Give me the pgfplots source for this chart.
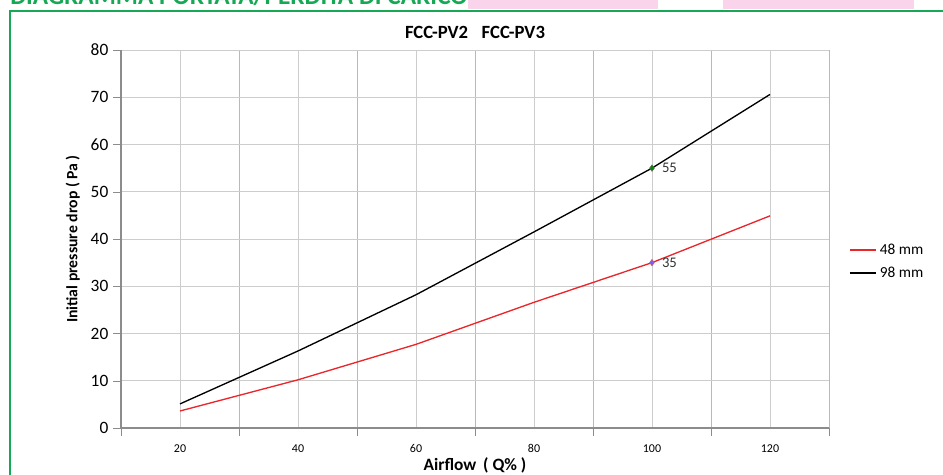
\documentclass[border=0pt]{standalone}
\usepackage{pgfplots}
\pgfplotsset{compat=1.18}
\usepackage{fontspec}
\setmainfont{Carlito}
\definecolor{framegreen}{RGB}{22,168,84}
\definecolor{pinkbox}{RGB}{250,212,234}
\definecolor{linered}{RGB}{233,38,42}
\definecolor{gridgray}{RGB}{205,205,205}
\definecolor{axisgray}{RGB}{140,140,140}
\pgfplotsset{
  short line legend/.style={
    legend image code/.code={\draw[mark repeat=2,mark phase=2,##1] plot coordinates {(0cm,0cm) (0.35cm,0cm) (0.7cm,0cm)};}
  }
}

\begin{document}
\begin{tikzpicture}[x=0.75pt,y=0.75pt]
  % page is 943 x 475 px, origin bottom left
  \path[use as bounding box] (0,0) rectangle (943,475);
  \begin{scope}
    \clip (0,0) rectangle (943,475);
    \fill[pinkbox] (468,466) rectangle (658,480);
    \node[anchor=base west, inner sep=0pt, text=framegreen] at (10,470)
      {\resizebox{343pt}{!}{\fontsize{18pt}{20pt}\selectfont\bfseries DIAGRAMMA PORTATA/PERDITA DI CARICO}};
    \fill[pinkbox] (723,466) rectangle (914,480);
    \draw[framegreen, line width=1.5pt] (10,-5) -- (10,463.5) -- (950,463.5);
  \end{scope}

  \begin{axis}[
      at={(90.75pt,35.25pt)}, anchor=south west,
      scale only axis,
      width=531pt, height=283.5pt,
      xmin=10, xmax=130, ymin=0, ymax=80,
      xtick={20,40,60,80,100,120},
      minor xtick={10,30,50,70,90,110,130},
      ytick={0,10,...,80},
      major x tick style={draw=none},
      minor x tick style={axisgray},
      minor tick length=6pt,
      major tick length=6pt,
      tick align=outside,
      y tick style={axisgray},
      grid=both,
      major grid style={gridgray, line width=0.6pt},
      minor grid style={gridgray!90!black, line width=0.6pt},
      axis line style={axisgray, line width=0.8pt},
      axis x line*=bottom, axis y line*=left,
      /pgf/number format/assume math mode=true,
      xticklabel style={font=\fontsize{9pt}{10pt}\selectfont, yshift=-3pt},
      yticklabel style={font=\fontsize{13pt}{15pt}\selectfont},
      title={FCC-PV2\enspace\ FCC-PV3},
      title style={font=\fontsize{14pt}{16pt}\selectfont\bfseries, at={(axis description cs:0.5,1.026)}, anchor=center},
      xlabel={Airflow\, ( Q\% )},
      ylabel={Initial pressure drop ( Pa )},
      xlabel style={font=\fontsize{13pt}{15pt}\selectfont\bfseries, at={(axis description cs:0.5,-0.1)}, anchor=center},
      ylabel style={font=\fontsize{11.8pt}{13pt}\selectfont\bfseries, at={(axis description cs:-0.068,0.5)}, anchor=center},
      legend style={at={(axis description cs:1.0226,0.5026)}, anchor=north west, draw=none, fill=none,
        font=\fontsize{11.5pt}{13pt}\selectfont, row sep=4pt},
      legend cell align=left,
      short line legend,
      clip=false,
    ]
    \addplot[linered, line width=1pt, no marks] coordinates
      {(20,3.6) (40,10.2) (60,17.7) (80,26.6) (100,35) (120,44.9)};
    \addlegendentry{48 mm}
    \addplot[black, line width=1pt, no marks] coordinates
      {(20,5.1) (40,16.3) (60,28.2) (80,41.5) (100,55) (120,70.6)};
    \addlegendentry{98 mm}
    \addplot[only marks, mark=diamond*, mark size=2.4pt, draw=gray!80!black, fill=green!55!black,
      nodes near coords, point meta=explicit symbolic,
      every node near coord/.style={anchor=west, xshift=4pt, font=\fontsize{11pt}{12pt}\selectfont, text=black!80}]
      coordinates {(100,55) [55]};
    \addplot[only marks, mark=diamond*, mark size=2.4pt, draw=linered!80, fill=blue!60,
      nodes near coords, point meta=explicit symbolic,
      every node near coord/.style={anchor=west, xshift=4pt, font=\fontsize{11pt}{12pt}\selectfont, text=black!80}]
      coordinates {(100,35) [35]};
  \end{axis}
\end{tikzpicture}
\end{document}
